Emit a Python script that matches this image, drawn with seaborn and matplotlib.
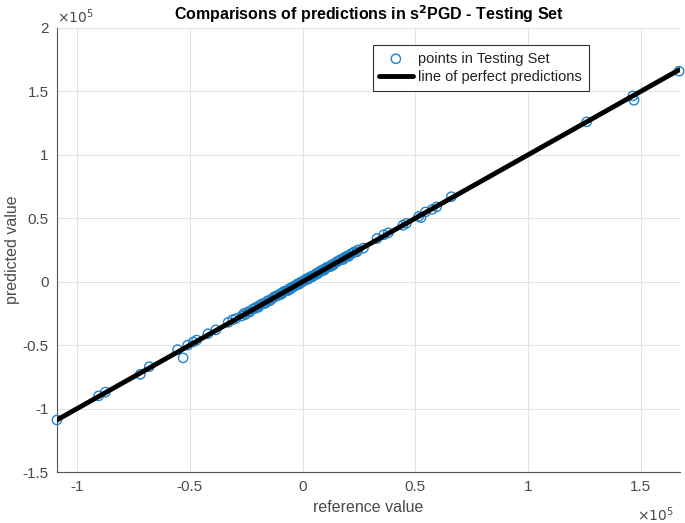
import numpy as np
import pandas as pd
import seaborn as sns
import matplotlib.pyplot as plt

# values in units of 1e5
reference = [-1.09, -0.905, -0.875, -0.72, -0.68, -0.555, -0.53, -0.51, -0.485, -0.47,
             -0.42, -0.385, -0.33, -0.31, -0.295, -0.27, -0.24, -0.22, -0.21, -0.19,
             -0.17, -0.155, -0.14, -0.125, -0.11, -0.10, -0.09, -0.08, -0.07, -0.06,
             -0.05, -0.04, -0.03, -0.02, -0.01, 0.0, 0.01, 0.02, 0.03, 0.04,
             0.05, 0.06, 0.07, 0.08, 0.09, 0.10, 0.11, 0.12, 0.13, 0.14,
             0.155, 0.17, 0.185, 0.20, 0.215, 0.23, 0.245, 0.27, 0.33, 0.36,
             0.38, 0.445, 0.46, 0.515, 0.525, 0.545, 0.575, 0.595, 0.66, 1.26,
             1.465, 1.47, 1.67,
             -0.235, -0.205, -0.165, -0.115, -0.065, -0.025, 0.015, 0.045, 0.085, 0.125, 0.165, 0.205,
             -0.26, -0.18, -0.13, -0.085, -0.045, -0.005, 0.035, 0.075, 0.105, 0.15, 0.19, 0.225,
             -0.255, -0.195, -0.145, -0.095, -0.055, -0.015, 0.025, 0.065, 0.095, 0.135, 0.18, 0.24]
predicted = [-1.09, -0.90, -0.87, -0.73, -0.67, -0.535, -0.60, -0.50, -0.475, -0.46,
             -0.41, -0.38, -0.32, -0.30, -0.29, -0.27, -0.235, -0.215, -0.21, -0.185,
             -0.17, -0.15, -0.14, -0.12, -0.11, -0.095, -0.09, -0.075, -0.07, -0.055,
             -0.05, -0.04, -0.03, -0.015, -0.01, 0.0, 0.01, 0.025, 0.03, 0.04,
             0.05, 0.065, 0.07, 0.08, 0.095, 0.10, 0.115, 0.12, 0.135, 0.14,
             0.16, 0.175, 0.19, 0.205, 0.22, 0.235, 0.25, 0.265, 0.34, 0.37,
             0.385, 0.445, 0.46, 0.515, 0.505, 0.55, 0.57, 0.59, 0.67, 1.26,
             1.465, 1.43, 1.66,
             -0.24, -0.20, -0.17, -0.11, -0.07, -0.02, 0.02, 0.04, 0.09, 0.12, 0.17, 0.20,
             -0.25, -0.175, -0.125, -0.08, -0.04, 0.0, 0.04, 0.08, 0.11, 0.155, 0.195, 0.23,
             -0.26, -0.20, -0.15, -0.10, -0.06, -0.02, 0.02, 0.06, 0.09, 0.13, 0.175, 0.235]
scale = 1e5

x_ticks = [-1, -0.5, 0, 0.5, 1, 1.5]
y_ticks = [-1.5, -1, -0.5, 0, 0.5, 1, 1.5, 2]

df = pd.DataFrame({'reference': np.array(reference) * scale,
                   'predicted': np.array(predicted) * scale})
lo, hi = df['reference'].min(), df['reference'].max()
perfect = pd.DataFrame({'x': [lo, hi], 'y': [lo, hi]})

sns.set_style('white')
plt.rcParams['font.family'] = ['Liberation Sans', 'DejaVu Sans']
TXT = '#4a4a4a'

fig = plt.figure(figsize=(6.85, 5.23), dpi=100)
ax = fig.add_axes([0.083, 0.0975, 0.910, 0.849])

sns.scatterplot(data=df, x='reference', y='predicted', ax=ax, marker='o', s=45,
                facecolor='none', edgecolor='#1f84cc', linewidth=1.0,
                label='points in Testing Set', zorder=3, clip_on=False)
sns.lineplot(data=perfect, x='x', y='y', ax=ax, color='black', linewidth=3.5,
             label='line of perfect predictions', zorder=4)

ax.set_xlim(-1.09 * scale, 1.675 * scale)
ax.set_ylim(-1.5 * scale, 2 * scale)
ax.set_xticks([t * scale for t in x_ticks])
ax.set_xticklabels([f'{t:g}' for t in x_ticks])
ax.set_yticks([t * scale for t in y_ticks])
ax.set_yticklabels([f'{t:g}' for t in y_ticks])
ax.tick_params(direction='in', length=4, labelsize=11, colors=TXT, pad=6)
ax.grid(True, color='#e3e3e3', linewidth=0.8)
ax.set_axisbelow(True)

for s in ['top', 'right']:
    ax.spines[s].set_visible(False)
for s in ['left', 'bottom']:
    ax.spines[s].set_color('#555555')
    ax.spines[s].set_linewidth(0.8)

ax.set_xlabel('reference value', fontsize=11.5, color=TXT, labelpad=4)
ax.set_ylabel('predicted value', fontsize=11.5, color=TXT, labelpad=2)
ax.set_title(r'Comparisons of predictions in s$^{\mathbf{2}}$PGD - Testing Set',
             fontsize=11.5, fontweight='bold', color='black', pad=6)

ax.text(0.0, 1.005, r'$\times10^5$', transform=ax.transAxes, fontsize=10,
        color=TXT, ha='left', va='bottom')
ax.text(0.93, -0.075, r'$\times10^5$', transform=ax.transAxes, fontsize=10,
        color=TXT, ha='left', va='top')

leg = ax.legend(loc='upper right', bbox_to_anchor=(0.865, 0.978), fontsize=10.5,
                fancybox=False, framealpha=1, edgecolor='#333333',
                borderpad=0.45, labelspacing=0.3, handlelength=2.3, handletextpad=0.4)
leg.get_frame().set_linewidth(0.8)
for t in leg.get_texts():
    t.set_color('#222222')

fig.savefig('out.png', dpi=100)
